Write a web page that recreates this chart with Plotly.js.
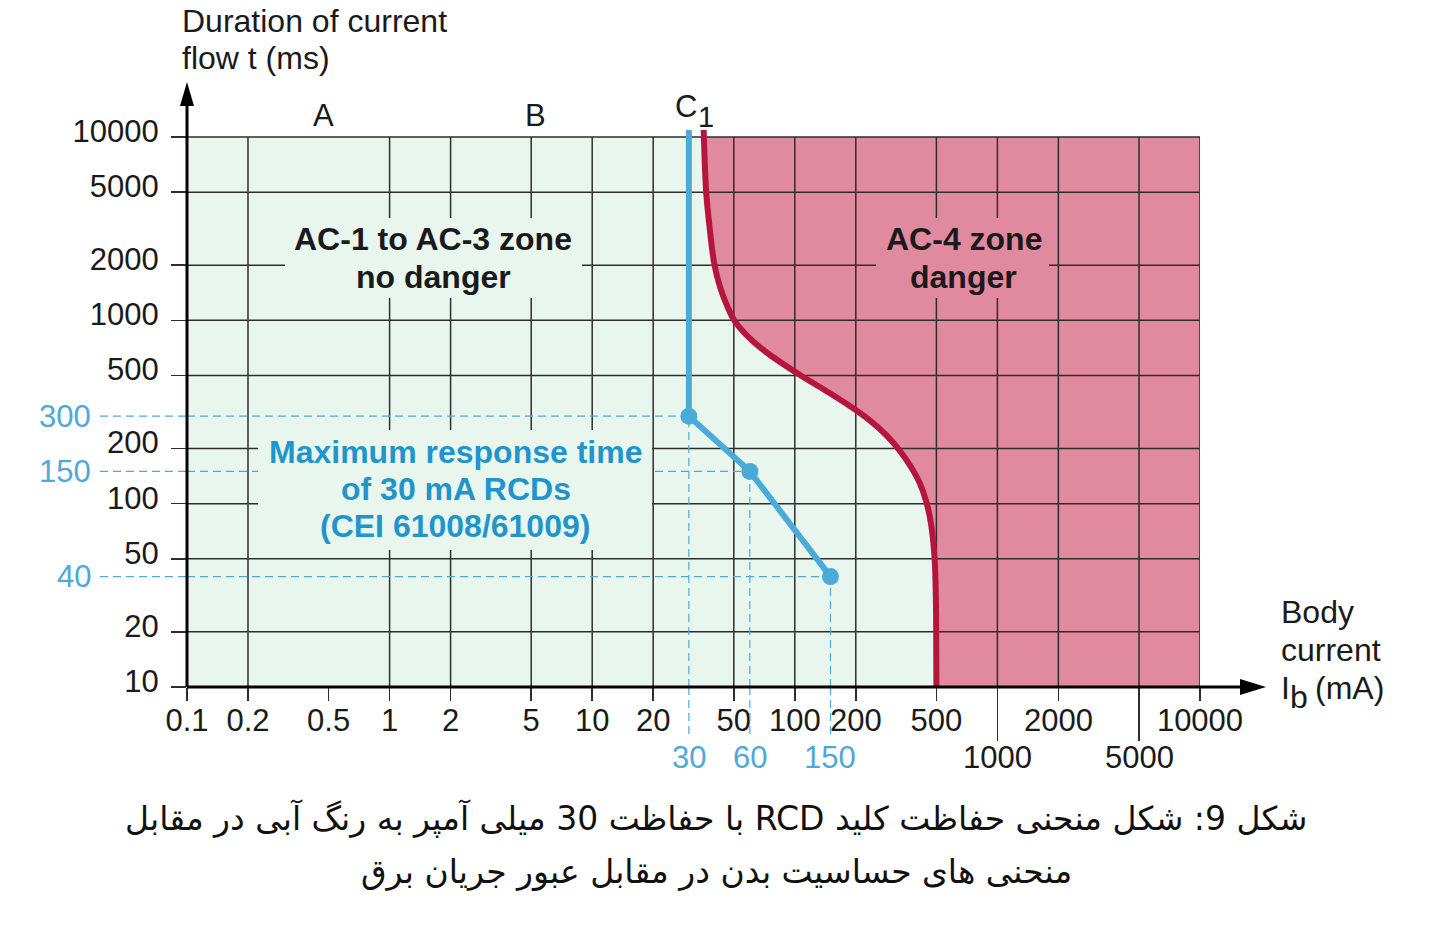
<!DOCTYPE html>
<html>
<head>
<meta charset="utf-8">
<script src="https://cdn.plot.ly/plotly-3.0.1.min.js"></script>
<style>html,body{margin:0;padding:0;background:#ffffff;}</style>
</head>
<body>
<div id="chart" style="width:1431px;height:931px;"></div>
<script>
// ---------- data ----------
const xTickVals = [0.1, 0.2, 0.5, 1, 2, 5, 10, 20, 50, 100, 200, 500, 2000, 10000];
const xTickText = ['0.1', '0.2', '0.5', '1', '2', '5', '10', '20', '50', '100', '200', '500', '2000', '10000'];
const xLowTickVals = [1000, 5000];
const xLowTickText = ['1000', '5000'];
const yTickVals = [10, 20, 50, 100, 200, 500, 1000, 2000, 5000, 10000];
const yTickText = ['10', '20', '50', '100', '200', '500', '1000', '2000', '5000', '10000'];
const xGridVals = [0.2, 1, 2, 5, 10, 20, 50, 100, 200, 500, 1000, 2000, 5000, 10000];
const yGridVals = [20, 50, 100, 200, 500, 1000, 2000, 5000, 10000];

// C1 boundary curve (body current mA, duration ms)
const c1CurrentMA = [35.5, 36.5, 37.6, 40.1, 42.7, 46.5, 50.7, 60.9, 75.2, 105.6, 139.7, 183, 232, 282, 328, 374, 413, 445, 470, 490, 497, 498.5, 500];
const c1DurationMs = [11000, 5055, 3552, 2016, 1528, 1188, 984, 785, 649, 505, 418, 346, 287, 237, 196, 159, 130, 103, 78, 50, 30, 21, 10];

// 30 mA RCD maximum response time
const rcdCurrentMA = [30, 30, 60, 150];
const rcdTimeMs = [11000, 300, 150, 40];
const rcdLabelX = ['30', '60', '150'];
const rcdLabelY = ['300', '150', '40'];

const captionLines = [
  'شکل 9: شکل منحنی حفاظت کلید RCD با حفاظت 30 میلی آمپر به رنگ آبی در مقابل',
  'منحنی های حساسیت بدن در مقابل عبور جریان برق'
];

// ---------- styles ----------
const GREEN = '#e9f6ee';
const PINK = '#e0899f';
const RED = '#b5163f';
const BLUE = '#4aabd9';
const BLUE_TXT = '#1f95cc';
const BLUE_LBL = '#4fa9d8';
const GRID = '#2e2e2e';
const FONT = 'Liberation Sans, Arial, sans-serif';

const X_MIN = 0.1, X_MAX = 10000, Y_MIN = 10, Y_MAX = 10000;

const traces = [];
// green zone background
traces.push({
  x: [X_MIN, X_MAX, X_MAX, X_MIN], y: [Y_MIN, Y_MIN, Y_MAX, Y_MAX],
  mode: 'lines', fill: 'toself', fillcolor: GREEN, line: {width: 0}, hoverinfo: 'skip'
});
// pink AC-4 zone
const pinkX = c1CurrentMA.concat([X_MAX, X_MAX]);
const pinkY = c1DurationMs.map(v => Math.min(v, Y_MAX)).concat([Y_MIN, Y_MAX]);
traces.push({
  x: pinkX, y: pinkY, mode: 'lines', fill: 'toself', fillcolor: PINK,
  line: {width: 0}, hoverinfo: 'skip'
});
// grid
const gvx = [], gvy = [];
xGridVals.forEach(v => { gvx.push(v, v, null); gvy.push(Y_MIN, Y_MAX, null); });
const ghx = [], ghy = [];
yGridVals.forEach(v => { ghx.push(X_MIN, X_MAX, null); ghy.push(v, v, null); });
traces.push({x: gvx, y: gvy, mode: 'lines', line: {color: GRID, width: 1.5}, hoverinfo: 'skip'});
traces.push({x: ghx, y: ghy, mode: 'lines', line: {color: GRID, width: 1.5}, hoverinfo: 'skip'});
// dashed reference lines inside the plot
const dx = [], dy = [];
for (let i = 1; i < rcdCurrentMA.length; i++) {
  dx.push(X_MIN, rcdCurrentMA[i], null);
  dy.push(rcdTimeMs[i], rcdTimeMs[i], null);
  dx.push(rcdCurrentMA[i], rcdCurrentMA[i], null);
  dy.push(Y_MIN, rcdTimeMs[i], null);
}
traces.push({x: dx, y: dy, mode: 'lines', line: {color: BLUE, width: 1.2, dash: '8px,5px'}, hoverinfo: 'skip'});
// RCD curve
traces.push({x: rcdCurrentMA, y: rcdTimeMs, mode: 'lines', line: {color: BLUE, width: 6}, hoverinfo: 'skip'});
traces.push({x: rcdCurrentMA.slice(1), y: rcdTimeMs.slice(1), mode: 'markers',
  marker: {color: BLUE, size: 17}, hoverinfo: 'skip', cliponaxis: false});
// C1 curve
traces.push({x: c1CurrentMA, y: c1DurationMs, mode: 'lines',
  line: {color: RED, width: 6, shape: 'spline', smoothing: 1}, hoverinfo: 'skip'});

// ---------- layout ----------
const L = 187, R = 231, T = 130, B = 244;
const PW = 1431 - L - R, PH = 931 - T - B;
const px2xp = px => (px - L) / PW;          // pixel -> paper x
const py2yp = py => (931 - B - py) / PH;    // pixel -> paper y

const shapes = [];
// dashed extensions outside the plot area
for (let i = 1; i < rcdCurrentMA.length; i++) {
  shapes.push({type: 'line', xref: 'paper', yref: 'y', x0: px2xp(100), x1: 0,
    y0: rcdTimeMs[i], y1: rcdTimeMs[i], line: {color: BLUE, width: 1.2, dash: '8px,5px'}});
  shapes.push({type: 'line', xref: 'x', yref: 'paper', x0: rcdCurrentMA[i], x1: rcdCurrentMA[i],
    y0: 0, y1: py2yp(738), line: {color: BLUE, width: 1.2, dash: '8px,5px'}});
}
// text boxes that hide the grid behind the zone labels
const box = (x0, x1, y0, y1, color) => ({type: 'rect', xref: 'paper', yref: 'paper', layer: 'above',
  x0: px2xp(x0), x1: px2xp(x1), y0: py2yp(y1), y1: py2yp(y0), fillcolor: color, line: {width: 0}});
shapes.push(box(285, 582, 218, 298, GREEN));
shapes.push(box(876, 1049, 218, 298, PINK));
shapes.push(box(258, 652, 430, 550, GREEN));
// axes with arrows
shapes.push({type: 'line', xref: 'paper', yref: 'paper', x0: 0, x1: px2xp(1243), y0: 0, y1: 0,
  line: {color: '#000', width: 3}});
shapes.push({type: 'path', xref: 'paper', yref: 'paper',
  path: `M ${px2xp(1240)} ${py2yp(679)} L ${px2xp(1266)} ${py2yp(687)} L ${px2xp(1240)} ${py2yp(695)} Z`,
  fillcolor: '#000', line: {width: 0}});
shapes.push({type: 'line', xref: 'paper', yref: 'paper', x0: 0, x1: 0, y0: 0, y1: py2yp(103),
  line: {color: '#000', width: 3}});
shapes.push({type: 'path', xref: 'paper', yref: 'paper',
  path: `M ${px2xp(180)} ${py2yp(106)} L ${px2xp(187)} ${py2yp(82)} L ${px2xp(194)} ${py2yp(106)} Z`,
  fillcolor: '#000', line: {width: 0}});

const ann = [];
const txt = (text, x, y, opts) => Object.assign({text, x, y, xref: 'paper', yref: 'paper',
  showarrow: false, xanchor: 'center', yanchor: 'middle',
  font: {family: FONT, size: 31, color: '#1a1a1a'}}, opts || {});
const TITLE_FONT = {family: FONT, size: 32, color: '#1a1a1a'};
const BOLD_FONT = {family: FONT, size: 32, color: '#1a1a1a', weight: 'bold'};
const BLUE_BOLD = {family: FONT, size: 32, color: BLUE_TXT, weight: 'bold'};

// axis titles
ann.push(txt('Duration of current', px2xp(180), py2yp(21), {xanchor: 'left', font: TITLE_FONT}));
ann.push(txt('flow t (ms)', px2xp(180), py2yp(58), {xanchor: 'left', font: TITLE_FONT}));
ann.push(txt('Body', px2xp(1279), py2yp(612), {xanchor: 'left', font: TITLE_FONT}));
ann.push(txt('current', px2xp(1279), py2yp(650), {xanchor: 'left', font: TITLE_FONT}));
ann.push(txt('I', px2xp(1279), py2yp(688), {xanchor: 'left', font: TITLE_FONT}));
ann.push(txt('b', px2xp(1288), py2yp(697), {xanchor: 'left', font: TITLE_FONT}));
ann.push(txt('(mA)', px2xp(1313), py2yp(688), {xanchor: 'left', font: TITLE_FONT}));
// curve labels
ann.push(txt('A', px2xp(323), py2yp(115)));
ann.push(txt('B', px2xp(535), py2yp(115)));
ann.push(txt('C', px2xp(686), py2yp(107)));
ann.push(txt('1', px2xp(706), py2yp(117), {font: {family: FONT, size: 29, color: '#1a1a1a'}}));
// zone labels
ann.push(txt('AC-1 to AC-3 zone', px2xp(432.5), py2yp(239), {font: BOLD_FONT}));
ann.push(txt('no danger', px2xp(433), py2yp(277), {font: BOLD_FONT}));
ann.push(txt('AC-4 zone', px2xp(964), py2yp(239), {font: BOLD_FONT}));
ann.push(txt('danger', px2xp(963.5), py2yp(277), {font: BOLD_FONT}));
ann.push(txt('Maximum response time', px2xp(455), py2yp(452), {font: BLUE_BOLD}));
ann.push(txt('of 30 mA RCDs', px2xp(455.5), py2yp(489), {font: BLUE_BOLD}));
ann.push(txt('(CEI 61008/61009)', px2xp(454.5), py2yp(526), {font: BLUE_BOLD}));
// lower-row x labels
xLowTickVals.forEach((v, i) => ann.push(Object.assign(txt(xLowTickText[i], Math.log10(v), py2yp(757)), {xref: 'x'})));
// RCD point labels
for (let i = 1; i < rcdCurrentMA.length; i++) {
  ann.push(Object.assign(txt(rcdLabelX[i - 1], Math.log10(rcdCurrentMA[i]), py2yp(757)),
    {xref: 'x', font: {family: FONT, size: 31, color: BLUE_LBL}}));
  ann.push(Object.assign(txt(rcdLabelY[i - 1], px2xp(93), Math.log10(rcdTimeMs[i])),
    {yref: 'y', xanchor: 'right', font: {family: FONT, size: 31, color: BLUE_LBL}}));
}
// caption
ann.push(txt('\u202B' + captionLines[0] + '\u202C', px2xp(716), py2yp(818),
  {font: {family: 'DejaVu Sans, sans-serif', size: 33, color: '#111'}}));
ann.push(txt('\u202B' + captionLines[1] + '\u202C', px2xp(716), py2yp(871),
  {font: {family: 'DejaVu Sans, sans-serif', size: 33, color: '#111'}}));

const layout = {
  width: 1431, height: 931,
  margin: {l: L, r: R, t: T, b: B, pad: 0},
  paper_bgcolor: '#ffffff', plot_bgcolor: 'rgba(0,0,0,0)',
  showlegend: false,
  font: {family: FONT, size: 31, color: '#1a1a1a'},
  xaxis: {
    type: 'log', range: [Math.log10(X_MIN), Math.log10(X_MAX)], fixedrange: true,
    showgrid: false, zeroline: false, showline: false, automargin: false,
    tickmode: 'array', tickvals: xTickVals, ticktext: xTickText,
    ticks: 'outside', ticklen: 13, tickwidth: 1.5, tickcolor: GRID,
    ticklabelstandoff: -7,
    tickfont: {family: FONT, size: 31, color: '#1a1a1a'},
    minor: {tickmode: 'array', tickvals: xLowTickVals, ticks: 'outside', ticklen: 53,
            tickwidth: 1.5, tickcolor: GRID, showgrid: false}
  },
  yaxis: {
    type: 'log', range: [Math.log10(Y_MIN), 4 + 7 / (550 / 3)], fixedrange: true,
    showgrid: false, zeroline: false, showline: false, automargin: false,
    tickmode: 'array', tickvals: yTickVals, ticktext: yTickText,
    ticks: 'outside', ticklen: 15, tickwidth: 1.5, tickcolor: GRID,
    ticklabelshift: -6, ticklabelstandoff: 6,
    tickfont: {family: FONT, size: 31, color: '#1a1a1a'}
  },
  shapes: shapes,
  annotations: ann
};

Plotly.newPlot('chart', traces, layout, {staticPlot: true, displayModeBar: false});
</script>
</body>
</html>
